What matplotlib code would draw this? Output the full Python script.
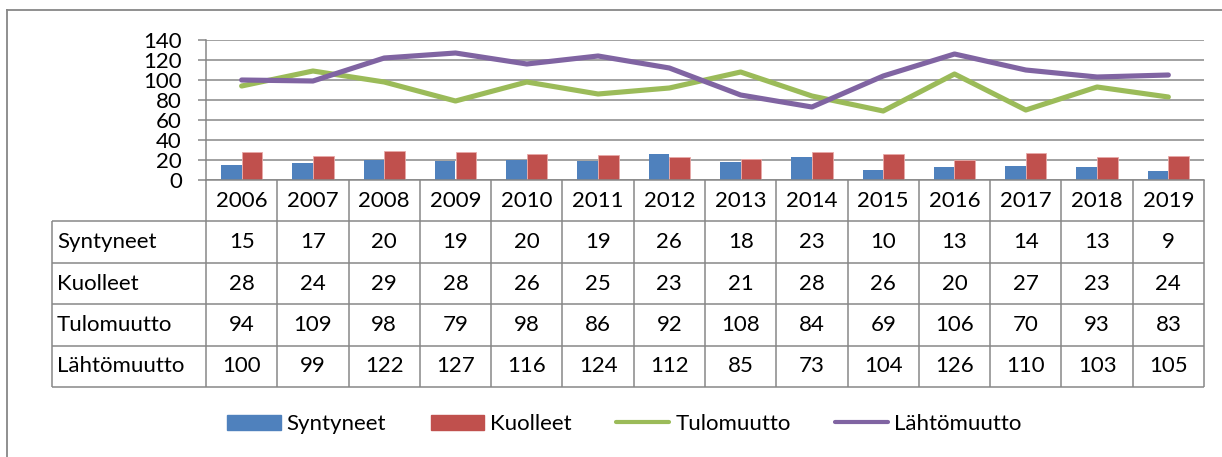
import numpy as np
import matplotlib.pyplot as plt
from matplotlib.patches import Patch
from matplotlib.lines import Line2D

plt.rcParams['font.family'] = ['Lato', 'DejaVu Sans']

# data
vuodet = ['2006', '2007', '2008', '2009', '2010', '2011', '2012',
          '2013', '2014', '2015', '2016', '2017', '2018', '2019']
syntyneet = [15, 17, 20, 19, 20, 19, 26, 18, 23, 10, 13, 14, 13, 9]
kuolleet = [28, 24, 29, 28, 26, 25, 23, 21, 28, 26, 20, 27, 23, 24]
tulomuutto = [94, 109, 98, 79, 98, 86, 92, 108, 84, 69, 106, 70, 93, 83]
lahtomuutto = [100, 99, 122, 127, 116, 124, 112, 85, 73, 104, 126, 110, 103, 105]
rivit = ['Syntyneet', 'Kuolleet', 'Tulomuutto', 'Lähtömuutto']

c_syn = '#4F81BD'
c_kuo = '#C0504D'
c_tulo = '#9BBB59'
c_lahto = '#8064A2'
harmaa = '#878787'

W, H = 1222, 457
fig = plt.figure(figsize=(W / 100, H / 100), dpi=100)


def laatikko(x0, y0, x1, y1):
    return [x0 / W, 1 - y1 / H, (x1 - x0) / W, (y1 - y0) / H]


# kaavio
ax = fig.add_axes(laatikko(206, 40, 1204, 180))
x = np.arange(len(vuodet))
ax.bar(x - 0.145, syntyneet, 0.29, color=c_syn, zorder=2)
ax.bar(x + 0.145, kuolleet, 0.29, color=c_kuo, edgecolor='#E8A9A8', linewidth=0.6, zorder=2)
ax.plot(x, tulomuutto, color=c_tulo, lw=3.7, solid_capstyle='round', solid_joinstyle='round', zorder=3)
ax.plot(x, lahtomuutto, color=c_lahto, lw=3.7, solid_capstyle='round', solid_joinstyle='round', zorder=3)
ax.set_xlim(-0.5, len(vuodet) - 0.5)
ax.set_ylim(0, 140)
ax.set_yticks(range(0, 141, 20))
ax.set_xticks([])
ax.yaxis.grid(True, color=harmaa, lw=1.1)
ax.set_axisbelow(True)
for s in ['top', 'right']:
    ax.spines[s].set_visible(False)
for s in ['left', 'bottom']:
    ax.spines[s].set_color(harmaa)
    ax.spines[s].set_linewidth(1.1)
ax.tick_params(axis='y', length=5.8, width=1.1, color=harmaa, pad=11.5, labelsize=16)

# taulukko
col_w = 998 / len(vuodet)
vasen = -0.5 - 154 / col_w
tab = fig.add_axes(laatikko(52, 180, 1204, 387))
tab.set_xlim(vasen, len(vuodet) - 0.5)
tab.set_ylim(5, 0)
tab.axis('off')
tab.hlines([1, 2, 3, 4, 5], vasen, len(vuodet) - 0.5, color=harmaa, lw=1.1, clip_on=False)
tab.vlines(np.arange(len(vuodet) + 1) - 0.5, 0, 5, color=harmaa, lw=1.1, clip_on=False)
tab.vlines([vasen], 1, 5, color=harmaa, lw=1.1, clip_on=False)

for i, v in enumerate(vuodet):
    tab.text(i, 0.5, v, ha='center', va='center', fontsize=16)
for r, (nimi, arvot) in enumerate(zip(rivit, [syntyneet, kuolleet, tulomuutto, lahtomuutto])):
    tab.text(vasen + 5 / col_w, r + 1.5, nimi, ha='left', va='center', fontsize=16)
    for i, a in enumerate(arvot):
        tab.text(i, r + 1.5, str(a), ha='center', va='center', fontsize=16)

# selite
kahvat = [Patch(color=c_syn), Patch(color=c_kuo),
          Line2D([], [], color=c_tulo, lw=3, solid_capstyle='round'),
          Line2D([], [], color=c_lahto, lw=3, solid_capstyle='round')]
fig.legend(kahvat, rivit, loc='center', bbox_to_anchor=((222 + 1027) / 2 / W, 1 - 424 / H),
           ncol=4, frameon=False, fontsize=16, handlelength=2.4, handleheight=0.68,
           handletextpad=0.27, columnspacing=2.0, borderpad=0, borderaxespad=0)

# reunus
fig.add_artist(Line2D([7 / W, 1], [1 - 10 / H] * 2, transform=fig.transFigure, color=harmaa, lw=1.3))
fig.add_artist(Line2D([7 / W] * 2, [1 - 10 / H, 0], transform=fig.transFigure, color=harmaa, lw=1.3))

fig.savefig('out.png', dpi=100)
